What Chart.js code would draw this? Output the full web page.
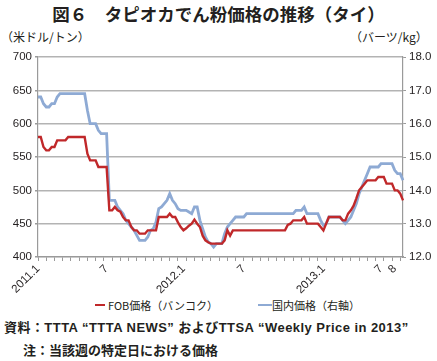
<!DOCTYPE html>
<html>
<head>
<meta charset="utf-8">
<script src="https://cdn.jsdelivr.net/npm/chart.js@4"></script>
<style>
  body { margin: 0; width: 437px; height: 361px; background: #fff; position: relative; overflow: hidden;
         font-family: "Noto Sans CJK JP", sans-serif; color: #231f20; }
  .t { position: absolute; white-space: nowrap; }
  #title { left: 0; width: 437px; top: 3px; line-height: 22px; text-align: center; font-size: 17.5px; font-weight: bold; }
  #unitL { left: 1px; top: 29px; font-size: 12px; line-height: 16px; }
  #unitR { left: 350px; top: 29px; font-size: 12px; line-height: 16px; }
  #wrap { position: absolute; left: 0; top: 0; width: 437px; height: 295px; }
  .lg { position: absolute; top: 297px; font-size: 11px; line-height: 16px; }
  .lg i { position: absolute; top: 7px; height: 0; border-top: 2.5px solid; }
  #src { left: 4px; top: 319px; font-size: 13px; line-height: 18px; font-weight: bold; letter-spacing: 0.45px;
         font-family: "Liberation Sans", "Noto Sans CJK JP", sans-serif; }
  #note { left: 23px; top: 341px; font-size: 13px; line-height: 18px; font-weight: bold; }
</style>
</head>
<body>
<div class="t" id="title">図６　タピオカでん粉価格の推移（タイ）</div>
<div class="t" id="unitL">（米ドル/トン）</div>
<div class="t" id="unitR">（バーツ/kg）</div>
<div id="wrap"><canvas id="myChart"></canvas></div>
<div id="legend"></div>
<div class="t" id="src">資料：TTTA “TTTA NEWS” およびTTSA “Weekly Price in 2013”</div>
<div class="t" id="note">注：当該週の特定日における価格</div>
<script>
// x axis labels and where they sit (week index)
const tickLabels = ['2011.1', '7', '2012.1', '7', '2013.1', '7', '8']
const tickAt = [0, 25, 53, 75, 104, 125, 130]

// FOB price, Bangkok (USD/t), weekly
const fob = [
  580, 580, 565, 560, 560, 565, 565, 575, 575, 575,
  575, 580, 580, 580, 580, 580, 580, 580, 555, 545,
  545, 545, 535, 535, 535, 535, 470, 470, 475, 470,
  468, 460, 455, 455, 445, 440, 440, 435, 435, 435,
  440, 440, 440, 440, 460, 460, 460, 460, 465, 460,
  460, 452, 445, 440, 443, 447, 450, 456, 450, 445,
  432, 425, 422, 420, 420, 420, 420, 420, 425, 440,
  432, 440, 440, 440, 440, 440, 440, 440, 440, 440,
  440, 440, 440, 440, 440, 440, 440, 440, 440, 440,
  440, 448, 450, 455, 455, 455, 455, 460, 450, 450,
  450, 450, 450, 445, 440, 450, 460, 460, 460, 460,
  460, 455, 455, 465, 470, 477, 488, 500, 505, 510,
  515, 515, 515, 515, 520, 520, 520, 510, 510, 510,
  500, 500, 495, 485
]

// domestic price (baht/kg, right axis), weekly
const domestic = [
  16.8, 16.8, 16.6, 16.5, 16.5, 16.6, 16.6, 16.8, 16.9, 16.9,
  16.9, 16.9, 16.9, 16.9, 16.9, 16.9, 16.9, 16.9, 16.4, 16.0,
  16.0, 16.0, 15.8, 15.7, 15.7, 15.7, 13.7, 13.7, 13.7, 13.5,
  13.4, 13.3, 13.1, 13.0, 12.9, 12.8, 12.65, 12.5, 12.5, 12.5,
  12.6, 12.8, 12.85, 13.05, 13.45, 13.5, 13.6, 13.7, 13.9, 13.7,
  13.6, 13.45, 13.4, 13.4, 13.4, 13.35, 13.3, 13.5, 13.5, 13.1,
  12.85, 12.6, 12.45, 12.4, 12.3, 12.4, 12.4, 12.4, 12.7, 12.9,
  13.0, 13.1, 13.2, 13.2, 13.2, 13.2, 13.3, 13.3, 13.3, 13.3,
  13.3, 13.3, 13.3, 13.3, 13.3, 13.3, 13.3, 13.3, 13.3, 13.3,
  13.3, 13.3, 13.3, 13.3, 13.4, 13.4, 13.4, 13.5, 13.3, 13.3,
  13.3, 13.3, 13.3, 13.1, 12.95, 13.0, 13.2, 13.2, 13.2, 13.2,
  13.2, 13.1, 13.0, 13.1, 13.2, 13.4, 13.6, 13.9, 14.1, 14.3,
  14.5, 14.7, 14.7, 14.7, 14.7, 14.8, 14.8, 14.8, 14.8, 14.8,
  14.6, 14.5, 14.5, 14.3
]

const weeks = fob.map(function (v, i) {
  const k = tickAt.indexOf(i)
  return k < 0 ? '' : tickLabels[k]
})

const seriesNames = ['FOB価格（バンコク）', '国内価格（右軸）']
const seriesColors = ['#c0282a', '#8eaad4']

const tickFont = { family: '"Liberation Sans", Arial, sans-serif', size: 11.5 }
const gridGrey = '#b3b3b3'
const axisGrey = '#9a9a9a'

var ctx = document.getElementById('myChart')
var myChart = new Chart(ctx, {
  type: 'line',
  data: {
    labels: weeks,
    datasets: [{
      label: seriesNames[0],
      data: fob,
      yAxisID: 'y',
      borderColor: seriesColors[0],
      borderWidth: 2.4,
      pointRadius: 0,
      tension: 0
    }, {
      label: seriesNames[1],
      data: domestic,
      yAxisID: 'y1',
      borderColor: seriesColors[1],
      borderWidth: 2.8,
      pointRadius: 0,
      tension: 0
    }]
  },
  options: {
    responsive: true,
    maintainAspectRatio: false,
    animation: false,
    layout: { padding: { top: 57, left: 0, right: 0, bottom: 0 } },
    plugins: {
      legend: { display: false },
      tooltip: { enabled: false }
    },
    scales: {
      x: {
        offset: false,
        afterFit: function (scale) { scale.height = 38 },
        grid: {
          drawOnChartArea: false,
          tickLength: 4,
          tickColor: function (c) { return c.index % 3 === 0 ? axisGrey : 'rgba(0,0,0,0)' }
        },
        border: { color: axisGrey, width: 1.2 },
        ticks: {
          autoSkip: false,
          minRotation: 45,
          maxRotation: 45,
          padding: 1,
          color: '#231f20',
          font: tickFont
        }
      },
      y: {
        position: 'left',
        min: 400,
        max: 700,
        afterFit: function (scale) { scale.width = 38 },
        ticks: { stepSize: 50, padding: 3, color: '#231f20', font: tickFont },
        grid: { color: gridGrey, lineWidth: 1.5, tickLength: 3, tickColor: axisGrey },
        border: { color: axisGrey, width: 1.2 }
      },
      y1: {
        position: 'right',
        min: 12,
        max: 18,
        afterFit: function (scale) { scale.width = 34 },
        ticks: {
          stepSize: 1,
          padding: 3,
          color: '#231f20',
          font: tickFont,
          callback: function (v) { return v.toFixed(1) }
        },
        grid: { drawOnChartArea: false, tickLength: 3, tickColor: axisGrey },
        border: { color: axisGrey, width: 1.2 }
      }
    }
  }
})

// legend below the chart, built from the datasets
var legendSpots = [{ line: 95, w: 10, text: 108 }, { line: 258, w: 14, text: 272 }]
var legend = document.getElementById('legend')
myChart.data.datasets.forEach(function (ds, i) {
  var s = legendSpots[i]
  var line = document.createElement('div')
  line.className = 'lg'
  line.style.left = s.line + 'px'
  line.innerHTML = '<i style="left:0;width:' + s.w + 'px;border-color:' + ds.borderColor + '"></i>'
  legend.appendChild(line)
  var txt = document.createElement('div')
  txt.className = 'lg t'
  txt.style.left = s.text + 'px'
  txt.textContent = ds.label
  legend.appendChild(txt)
})
</script>
</body>
</html>
